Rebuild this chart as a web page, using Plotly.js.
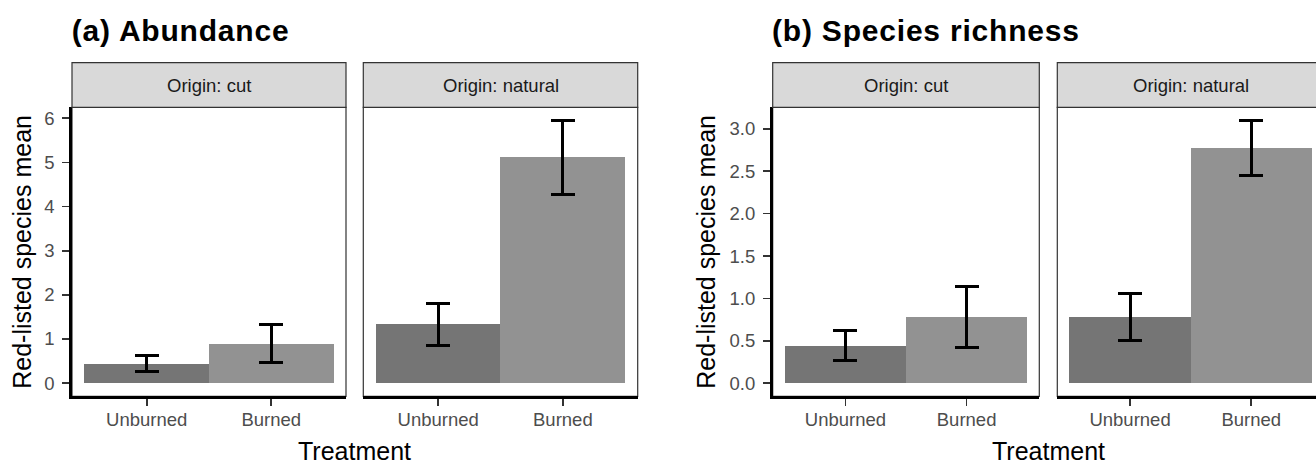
<!DOCTYPE html>
<html>
<head>
<meta charset="utf-8">
<script src="https://cdn.plot.ly/plotly-3.0.1.min.js"></script>
<style>
html, body { margin: 0; padding: 0; background: #ffffff; }
#wrap { width: 1316px; height: 464px; overflow: hidden; position: relative; }
#chart { width: 1326px; height: 464px; }
</style>
</head>
<body>
<div id="wrap"><div id="chart"></div></div>
<script>
// ---- data ----
const treatments = ['Unburned', 'Burned'];
const originLabels = ['Origin: cut', 'Origin: natural'];

const abundanceCutMean = [0.435, 0.887];
const abundanceCutLow = [0.27, 0.465];
const abundanceCutHigh = [0.63, 1.32];
const abundanceNaturalMean = [1.34, 5.115];
const abundanceNaturalLow = [0.86, 4.27];
const abundanceNaturalHigh = [1.81, 5.95];

const richnessCutMean = [0.44, 0.776];
const richnessCutLow = [0.27, 0.415];
const richnessCutHigh = [0.627, 1.141];
const richnessNaturalMean = [0.776, 2.78];
const richnessNaturalLow = [0.50, 2.45];
const richnessNaturalHigh = [1.06, 3.10];

const abundanceTicks = [0, 1, 2, 3, 4, 5, 6];
const abundanceTickText = ['0', '1', '2', '3', '4', '5', '6'];
const richnessTicks = [0, 0.5, 1.0, 1.5, 2.0, 2.5, 3.0];
const richnessTickText = ['0.0', '0.5', '1.0', '1.5', '2.0', '2.5', '3.0'];

const panelTitles = ['(a) Abundance', '(b) Species richness'];
const yTitle = 'Red-listed species mean';
const xTitle = 'Treatment';

// ---- styling ----
const barColors = ['#757575', '#929292'];
const W = 1326, H = 464;
const fx = p => p / W;
const fy = p => 1 - p / H;
const panelX = [[72, 346], [363.3, 637.7], [772.7, 1039.3], [1057.3, 1324]];
const panelTop = 107.3, panelBottom = 396.3, stripTop = 62.7;
const font = 'Liberation Sans, Arial, Helvetica, sans-serif';

function ext(highs) { return Math.max.apply(null, highs); }
const aMax = ext(abundanceCutHigh.concat(abundanceNaturalHigh));
const rMax = ext(richnessCutHigh.concat(richnessNaturalHigh));
const aRange = [-0.05 * aMax, 1.05 * aMax];
const rRange = [-0.05 * rMax, 1.05 * rMax];

function barTrace(mean, low, high, idx) {
  const sfx = idx === 1 ? '' : String(idx);
  return {
    type: 'bar',
    x: treatments,
    y: mean,
    xaxis: 'x' + sfx,
    yaxis: 'y' + sfx,
    marker: { color: barColors, line: { width: 0 } },
    error_y: {
      type: 'data', symmetric: false,
      array: high.map((h, i) => h - mean[i]),
      arrayminus: low.map((l, i) => mean[i] - l),
      color: '#000000', thickness: 3, width: 12
    },
    hoverinfo: 'x+y',
    showlegend: false
  };
}

const data = [
  barTrace(abundanceCutMean, abundanceCutLow, abundanceCutHigh, 1),
  barTrace(abundanceNaturalMean, abundanceNaturalLow, abundanceNaturalHigh, 2),
  barTrace(richnessCutMean, richnessCutLow, richnessCutHigh, 3),
  barTrace(richnessNaturalMean, richnessNaturalLow, richnessNaturalHigh, 4)
];

const tickFont = { family: font, size: 18.5, color: '#4D4D4D' };

function xAxis(i) {
  return {
    domain: [fx(panelX[i][0]), fx(panelX[i][1])],
    anchor: 'y' + (i === 0 ? '' : i + 1),
    type: 'category',
    categoryorder: 'array', categoryarray: treatments,
    range: [-0.6, 1.6],
    showgrid: false, zeroline: false,
    showline: true, linecolor: '#000000', linewidth: 2.8,
    ticks: 'outside', ticklen: 7, tickwidth: 1.6, tickcolor: '#333333',
    tickfont: tickFont, ticklabelstandoff: -2,
    fixedrange: true
  };
}
function yAxis(i, showLabels) {
  const isA = i < 2;
  const ax = {
    domain: [fy(panelBottom), fy(panelTop)],
    anchor: 'x' + (i === 0 ? '' : i + 1),
    range: isA ? aRange : rRange,
    showgrid: false, zeroline: false,
    fixedrange: true
  };
  if (showLabels) {
    Object.assign(ax, {
      showline: true, linecolor: '#000000', linewidth: 2.8,
      ticks: 'outside', ticklen: 7, tickwidth: 1.6, tickcolor: '#333333',
      tickmode: 'array',
      tickvals: isA ? abundanceTicks : richnessTicks,
      ticktext: isA ? abundanceTickText : richnessTickText,
      tickfont: tickFont, ticklabelstandoff: 4
    });
  } else {
    Object.assign(ax, { showline: false, ticks: '', showticklabels: false });
  }
  return ax;
}

const layout = {
  width: W, height: H,
  margin: { l: 0, r: 0, t: 0, b: 0, pad: 0 },
  paper_bgcolor: '#ffffff', plot_bgcolor: 'rgba(0,0,0,0)',
  bargap: 0, bargroupgap: 0,
  showlegend: false,
  font: { family: font, color: '#000000' },
  xaxis: xAxis(0), yaxis: yAxis(0, true),
  xaxis2: xAxis(1), yaxis2: Object.assign(yAxis(1, false), { matches: 'y' }),
  xaxis3: xAxis(2), yaxis3: yAxis(2, true),
  xaxis4: xAxis(3), yaxis4: Object.assign(yAxis(3, false), { matches: 'y3' }),
  shapes: [],
  annotations: []
};

// panel borders and strips
for (let i = 0; i < 4; i++) {
  const x0 = fx(panelX[i][0]), x1 = fx(panelX[i][1]);
  layout.shapes.push({
    type: 'rect', xref: 'paper', yref: 'paper', layer: 'below',
    x0: x0, x1: x1, y0: fy(panelBottom), y1: fy(panelTop),
    line: { color: '#333333', width: 1.2 }, fillcolor: 'rgba(0,0,0,0)'
  });
  layout.shapes.push({
    type: 'rect', xref: 'paper', yref: 'paper', layer: 'above',
    x0: x0, x1: x1, y0: fy(panelTop), y1: fy(stripTop),
    line: { color: '#333333', width: 1.2 }, fillcolor: '#D9D9D9'
  });
  layout.annotations.push({
    xref: 'paper', yref: 'paper',
    x: (x0 + x1) / 2, y: fy((panelTop + stripTop) / 2),
    xanchor: 'center', yanchor: 'middle', showarrow: false,
    text: originLabels[i % 2],
    font: { family: font, size: 18.5, color: '#1A1A1A' }
  });
}

// panel titles, axis titles
const groupLeft = [panelX[0][0], panelX[2][0]];
const groupCenter = [(panelX[0][0] + panelX[1][1]) / 2, (panelX[2][0] + panelX[3][1]) / 2];
const yTitleX = [22, 706];
const titleShift = [4, 6];
for (let g = 0; g < 2; g++) {
  layout.annotations.push({
    xref: 'paper', yref: 'paper',
    x: fx(groupLeft[g] - 1 + titleShift[g]), y: fy(30),
    xanchor: 'left', yanchor: 'middle', showarrow: false,
    text: '<b>' + panelTitles[g] + '</b>',
    font: { family: font, size: 30, color: '#000000' }
  });
  layout.annotations.push({
    xref: 'paper', yref: 'paper',
    x: fx(groupCenter[g]), y: fy(451),
    xanchor: 'center', yanchor: 'middle', showarrow: false,
    text: xTitle,
    font: { family: font, size: 25, color: '#000000' }
  });
  layout.annotations.push({
    xref: 'paper', yref: 'paper',
    x: fx(yTitleX[g]), y: fy((panelTop + panelBottom) / 2),
    xanchor: 'center', yanchor: 'middle', showarrow: false, textangle: -90,
    text: yTitle,
    font: { family: font, size: 25, color: '#000000' }
  });
}

Plotly.newPlot('chart', data, layout, { staticPlot: true, displayModeBar: false }).then(function (gd) {
  // the reference's bold titles are set slightly wider than Arial Bold
  gd.querySelectorAll('.annotation-text').forEach(function (t) {
    if (t.textContent === panelTitles[0] || t.textContent === panelTitles[1]) {
      t.style.letterSpacing = '0.8px';
    }
  });
});
</script>
</body>
</html>
